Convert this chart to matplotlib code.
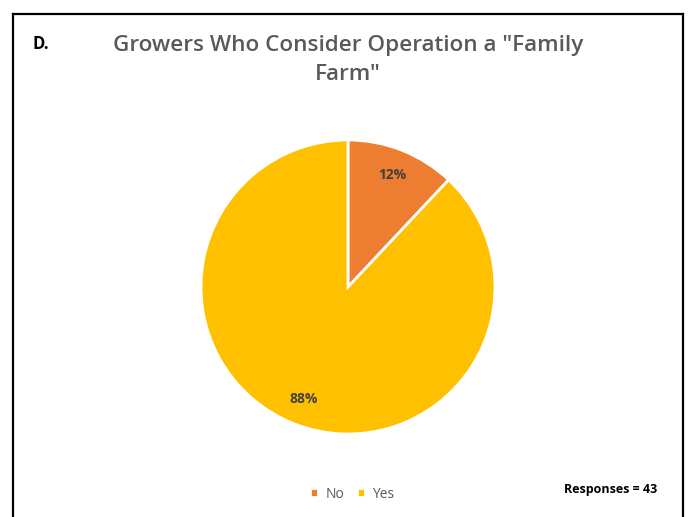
import matplotlib.pyplot as plt
from matplotlib.lines import Line2D

labels = ["No", "Yes"]
percents = [12, 88]
colors = ["#ED7D31", "#FFC000"]

plt.rcParams['font.family'] = ['Open Sans', 'DejaVu Sans']

fig = plt.figure(figsize=(6.91, 5.17), dpi=100)
ax = fig.add_axes([0, 0, 1, 1])
ax.set_xlim(0, 691)
ax.set_ylim(517, 0)
ax.axis('off')

# pie axes placed so the circle sits at (348, 287) with radius ~147 px
W, H = 691.0, 517.0
cx, cy, r = 348, 287, 147
pax = fig.add_axes([(cx - r) / W, 1 - (cy + r) / H, 2 * r / W, 2 * r / H])
wedges, texts, autotexts = pax.pie(
    percents, colors=colors, startangle=90, counterclock=False,
    autopct='%.0f%%', pctdistance=0.82,
    wedgeprops=dict(edgecolor='white', linewidth=2),
    textprops=dict(color='#404040', fontsize=10, fontweight='bold'))
pax.set_xlim(-1, 1)
pax.set_ylim(-1, 1)
pax.set_aspect('equal')

# chart frame (open at the bottom)
frame = dict(color='#000000', linewidth=1.6, transform=ax.transData)
fig.add_artist(Line2D([13, 13], [517, 14], **frame))
fig.add_artist(Line2D([13, 683], [14, 14], **frame))
fig.add_artist(Line2D([683, 683], [14, 517], **frame))

ax.text(33, 44, "D.", fontsize=12, fontweight='bold', color='black', va='center', ha='left')
ax.text(348, 46, 'Growers Who Consider Operation a "Family', fontsize=16.2,
        fontweight='semibold', color='#595959', ha='center', va='center')
ax.text(348, 75, 'Farm"', fontsize=16.2, fontweight='semibold', color='#595959',
        ha='center', va='center')

ax.text(657, 490, "Responses = 43", fontsize=9, fontweight='bold', color='black',
        ha='right', va='center')

leg = fig.legend(wedges, labels, loc='center', bbox_to_anchor=(352 / W, 1 - 494 / H),
                 ncol=2, frameon=False, fontsize=10, handlelength=0.6, handleheight=0.6,
                 handletextpad=0.5, columnspacing=0.9, labelcolor='#595959')

fig.savefig("out.png", dpi=100)
